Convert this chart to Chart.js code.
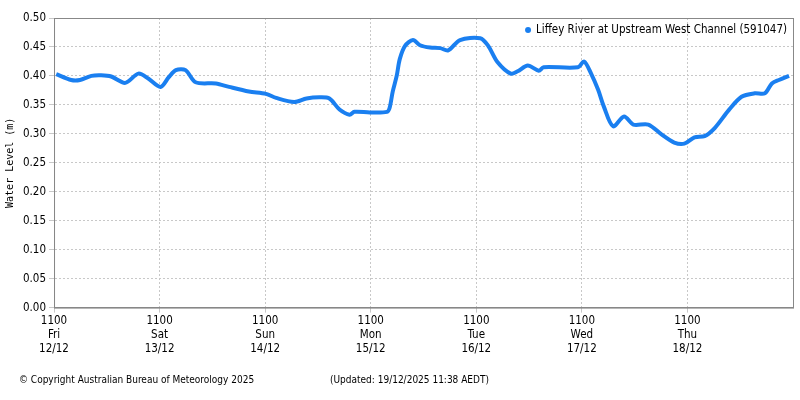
<!DOCTYPE html>
<html><head><meta charset="utf-8">
<script src="https://cdn.jsdelivr.net/npm/chart.js@4"></script>
<style>
body{margin:0;background:#fff;font-family:"DejaVu Sans Condensed","DejaVu Sans",sans-serif;}
#wrap{position:relative;width:800px;height:400px;}
.foot{position:absolute;top:374px;font-size:10px;color:#000;}
</style></head><body>
<div id="wrap"><canvas id="c" width="800" height="400"></canvas>
<div class="foot" style="left:19px">© Copyright Australian Bureau of Meteorology 2025</div>
<div class="foot" style="left:330px">(Updated: 19/12/2025 11:38 AEDT)</div>
</div>
<script>
const hours = [0.5,3.9,5.9,8.5,10.7,13.0,16.2,19.2,21.5,24.2,26.1,27.7,29.9,32.2,36.8,39.8,44.3,48.2,50.5,54.6,57.4,60.3,62.6,64.9,67.2,68.3,71.8,75.7,76.3,77.0,77.9,78.6,79.8,81.6,83.2,85.5,87.8,89.6,92.3,96.9,98.7,100.8,103.8,105.4,107.7,110.2,111.3,119.1,120.5,122.1,123.7,125.0,127.1,129.6,131.7,135.1,138.1,141.0,143.3,145.6,147.9,150.2,153.4,156.3,159.3,161.6,163.2,164.8,167.1];
const levels = [0.403,0.393,0.393,0.400,0.401,0.399,0.388,0.404,0.395,0.381,0.398,0.410,0.410,0.389,0.387,0.381,0.373,0.369,0.362,0.355,0.361,0.363,0.361,0.342,0.333,0.338,0.337,0.338,0.345,0.373,0.400,0.429,0.452,0.462,0.453,0.449,0.448,0.444,0.462,0.465,0.452,0.424,0.404,0.408,0.418,0.409,0.415,0.415,0.425,0.404,0.376,0.347,0.313,0.330,0.316,0.316,0.299,0.285,0.283,0.294,0.296,0.310,0.341,0.364,0.370,0.370,0.387,0.393,0.400];
const tickHours = [0,24,48,72,96,120,144];
const tickLabels = [["1100","Fri","12/12"],["1100","Sat","13/12"],["1100","Sun","14/12"],["1100","Mon","15/12"],["1100","Tue","16/12"],["1100","Wed","17/12"],["1100","Thu","18/12"]];
const seriesName = "Liffey River at Upstream West Channel (591047)";
const blue = "#1a7ff0";
const FONT = '"DejaVu Sans Condensed","DejaVu Sans",sans-serif';
const frame = {id:'frame',afterDraw(ch){const a=ch.chartArea,c=ch.ctx;c.save();c.strokeStyle='#888';c.lineWidth=1;c.strokeRect(a.left+0.5,a.top+0.5,a.right-a.left,a.bottom-a.top);
 c.font='11.5px '+FONT;c.fillStyle='#000';c.textAlign='right';c.textBaseline='middle';
 const tx=a.right-6,ty=a.top+12;c.fillText(ch.data.datasets[0].label,tx,ty);
 const w=c.measureText(ch.data.datasets[0].label).width;c.fillStyle=blue;c.beginPath();c.arc(tx-w-8,ty,3,0,Math.PI*2);c.fill();c.restore();}};
new Chart(document.getElementById('c'),{
 type:'scatter',
 data:{datasets:[{label:seriesName,data:hours.map((h,i)=>({x:h,y:levels[i]})),showLine:true,borderColor:blue,backgroundColor:blue,borderWidth:4,pointRadius:0,tension:0.3}]},
 options:{responsive:false,animation:false,
  layout:{padding:{left:0,right:7,top:18,bottom:42}},
  plugins:{legend:{display:false},tooltip:{enabled:false}},
  scales:{
   x:{type:'linear',min:0,max:168,
     afterBuildTicks(ax){ax.ticks=tickHours.map(v=>({value:v}));},
     ticks:{color:'#000',font:{family:FONT,size:11.5},maxRotation:0,autoSkip:false,padding:2,callback:(v)=>tickLabels[tickHours.indexOf(v)]},
     grid:{color:'#c8c8c8',tickLength:5},border:{color:'#888',dash:[2,2]}},
   y:{min:0,max:0.5,
     ticks:{stepSize:0.05,color:'#000',font:{family:FONT,size:11.5},callback:v=>v.toFixed(2)},
     title:{display:true,text:'Water Level (m)',color:'#000',font:{family:'DejaVu Sans Mono',size:10}},
     grid:{color:'#c8c8c8',tickLength:5},border:{color:'#888',dash:[2,2]}}
  }},
 plugins:[frame]
});
</script></body></html>
